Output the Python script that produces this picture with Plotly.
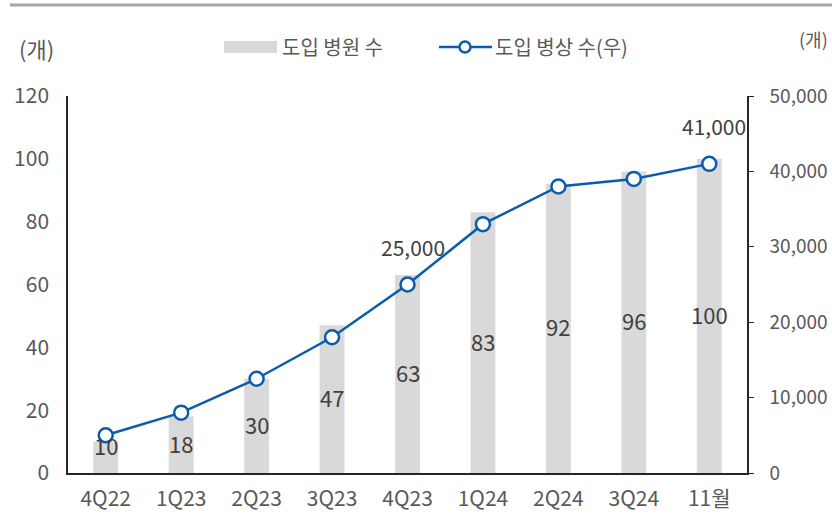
import plotly.graph_objects as go

categories = ["4Q22", "1Q23", "2Q23", "3Q23", "4Q23", "1Q24", "2Q24", "3Q24", "11월"]
hospitals = [10, 18, 30, 47, 63, 83, 92, 96, 100]
beds = [5000, 8000, 12500, 18000, 25000, 33000, 38000, 39000, 41000]
bed_label_idx = [4, 8]

FONT = "Noto Sans CJK KR, Noto Sans, sans-serif"
BLUE = "#0a5cad"
GREY_BAR = "#d9d9d9"
TXT = "#595959"
LBL = "#404040"

W, H = 832, 532
L, R, T, B = 68, 747, 96, 473
pw, ph = R - L, B - T


def px(x):
    return (x - L) / pw


def py(y):
    return (B - y) / ph


fig = go.Figure()
fig.add_trace(go.Bar(x=categories, y=hospitals, marker=dict(color=GREY_BAR, line=dict(width=0)),
                     width=0.33, name="도입 병원 수", showlegend=False, hoverinfo="skip"))
fig.add_trace(go.Scatter(x=categories, y=beds, yaxis="y2", mode="lines+markers",
                         line=dict(color=BLUE, width=2.5),
                         marker=dict(symbol="circle", size=14, color="white",
                                     line=dict(color=BLUE, width=2.5)),
                         name="도입 병상 수(우)", showlegend=False, hoverinfo="skip"))

annotations = []
for c, v in zip(categories, hospitals):
    annotations.append(dict(x=c, y=v / 2, xref="x", yref="y", text=str(v), showarrow=False,
                            xanchor="center", yanchor="middle",
                            yshift=12 if v < 15 else 2,
                            font=dict(family=FONT, size=22, color=LBL)))
for i in bed_label_idx:
    annotations.append(dict(x=categories[i], y=beds[i], xref="x", yref="y2",
                            text=f"{beds[i]:,}", showarrow=False, yshift=38, xshift=5,
                            xanchor="center", yanchor="middle",
                            font=dict(family=FONT, size=21, color=LBL)))

# unit labels
annotations.append(dict(x=px(36), y=py(48), xref="paper", yref="paper", text="(개)",
                        xanchor="center", yanchor="middle",
                        showarrow=False, font=dict(family=FONT, size=22, color=TXT)))
annotations.append(dict(x=px(830), y=py(39), xref="paper", yref="paper", text="(개)",
                        xanchor="right", yanchor="middle",
                        showarrow=False, font=dict(family=FONT, size=18, color=TXT)))
# legend texts
annotations.append(dict(x=px(280), y=py(47), xref="paper", yref="paper", text="도입 병원 수",
                        xanchor="left", yanchor="middle", showarrow=False,
                        font=dict(family=FONT, size=20, color=TXT)))
annotations.append(dict(x=px(493), y=py(47), xref="paper", yref="paper", text="도입 병상 수(우)",
                        xanchor="left", yanchor="middle", showarrow=False,
                        font=dict(family=FONT, size=20, color=TXT)))

shapes = [
    dict(type="line", xref="paper", yref="paper", x0=px(10), x1=px(834), y0=py(5), y1=py(5),
         line=dict(color="#a6a6a6", width=3)),
    dict(type="rect", xref="paper", yref="paper", x0=px(224), x1=px(277), y0=py(53), y1=py(41),
         fillcolor=GREY_BAR, line=dict(width=0)),
    dict(type="line", xref="paper", yref="paper", x0=px(439), x1=px(492), y0=py(47), y1=py(47),
         line=dict(color=BLUE, width=2.5)),
    dict(type="circle", xref="paper", yref="paper", xsizemode="pixel", ysizemode="pixel",
         xanchor=px(465), yanchor=py(47), x0=-5.5, x1=5.5, y0=-5.5, y1=5.5,
         fillcolor="white", line=dict(color=BLUE, width=2.5)),
]

fig.update_layout(
    width=W, height=H,
    margin=dict(l=L, r=W - R, t=T, b=H - B, pad=0, autoexpand=False),
    paper_bgcolor="white", plot_bgcolor="white",
    font=dict(family=FONT, size=21, color=TXT),
    xaxis=dict(type="category", range=[-0.5, len(categories) - 0.5], showline=True,
               linecolor="#262626", linewidth=1.5, ticks="", showgrid=False,
               ticklabelstandoff=6, automargin=False,
               tickfont=dict(family=FONT, size=21, color=TXT)),
    yaxis=dict(range=[0, 120], dtick=20, showline=True, linecolor="#262626", linewidth=1.5,
               ticks="", showgrid=False, zeroline=False, ticklabelstandoff=13,
               automargin=False,
               tickfont=dict(family=FONT, size=21, color=TXT)),
    yaxis2=dict(range=[0, 50000], dtick=10000, overlaying="y", side="right", showline=True,
                linecolor="#262626", linewidth=1.5, ticks="outside", ticklen=5,
                tickcolor="#262626", showgrid=False, zeroline=False, tickformat=",d",
                ticklabelstandoff=12, automargin=False,
                tickfont=dict(family=FONT, size=19, color=TXT)),
    annotations=annotations,
    shapes=shapes,
    showlegend=False,
    bargap=0.67,
)

fig.write_html("out.html", config={"displayModeBar": False},
               post_script="document.body.style.margin='0';document.body.style.padding='0';")
